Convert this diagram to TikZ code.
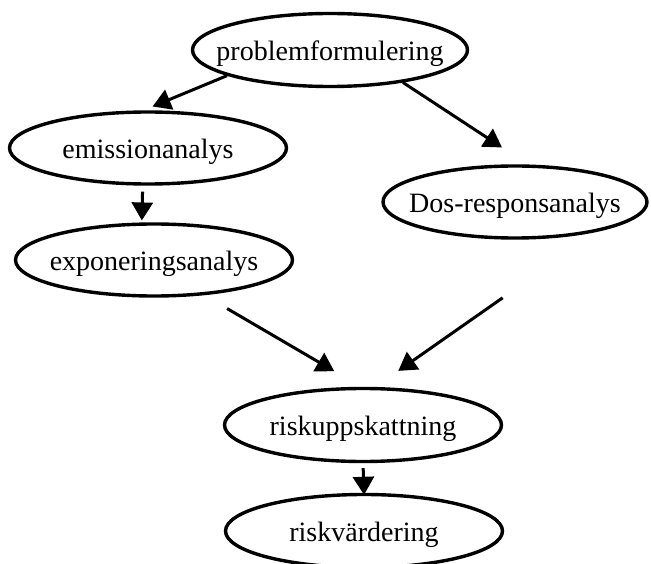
\documentclass[tikz,border=0pt]{standalone}
\usepackage{fontspec}
\setmainfont{Liberation Serif}
\usetikzlibrary{shapes.geometric,arrows.meta}
\newcommand{\ovaltext}[1]{\makebox[0pt][c]{#1}}
\tikzset{
  oval/.style={ellipse, draw=black, line width=3.4pt, inner sep=0pt,
    text height=24pt, text depth=3pt,
    font=\fontsize{28}{34}\selectfont},
  conn/.style={line width=3pt, -{Triangle[length=18pt,width=21pt]}}
}
\begin{document}
\begin{tikzpicture}[x=1pt,y=-1pt]
\useasboundingbox (0,0) rectangle (651,564);
\node[oval, minimum width=275pt, minimum height=73pt] (p) at (330,50) {\ovaltext{problemformulering}};
\node[oval, minimum width=277pt, minimum height=72pt] (e) at (148,148) {\ovaltext{emissionanalys}};
\node[oval, minimum width=277pt, minimum height=72pt] (x) at (154,260) {\ovaltext{exponeringsanalys}};
\node[oval, minimum width=264pt, minimum height=72pt] (d) at (515,202) {\ovaltext{Dos-responsanalys}};
\node[oval, minimum width=277pt, minimum height=73pt] (r) at (363,425) {\ovaltext{riskuppskattning}};
\node[oval, minimum width=277pt, minimum height=73pt] (v) at (364,531) {\ovaltext{riskvärdering}};
\draw[conn, shorten >=10pt] (p.194) -- (e.97);
\draw[conn, shorten >=31pt] (p.336) -- (d.71.5);
\draw[conn, shorten <=6pt, shorten >=2pt] (e.262) -- (x.108);
\draw[conn, shorten <=26.5pt, shorten >=31pt] (x.325.5) -- (r.93);
\draw[conn, shorten <=115pt, shorten >=28pt] (d.340.3) -- (r.72.6);
\draw[conn, shorten <=5pt, shorten >=-2pt] (r.270) -- (v.90);
\end{tikzpicture}
\end{document}
